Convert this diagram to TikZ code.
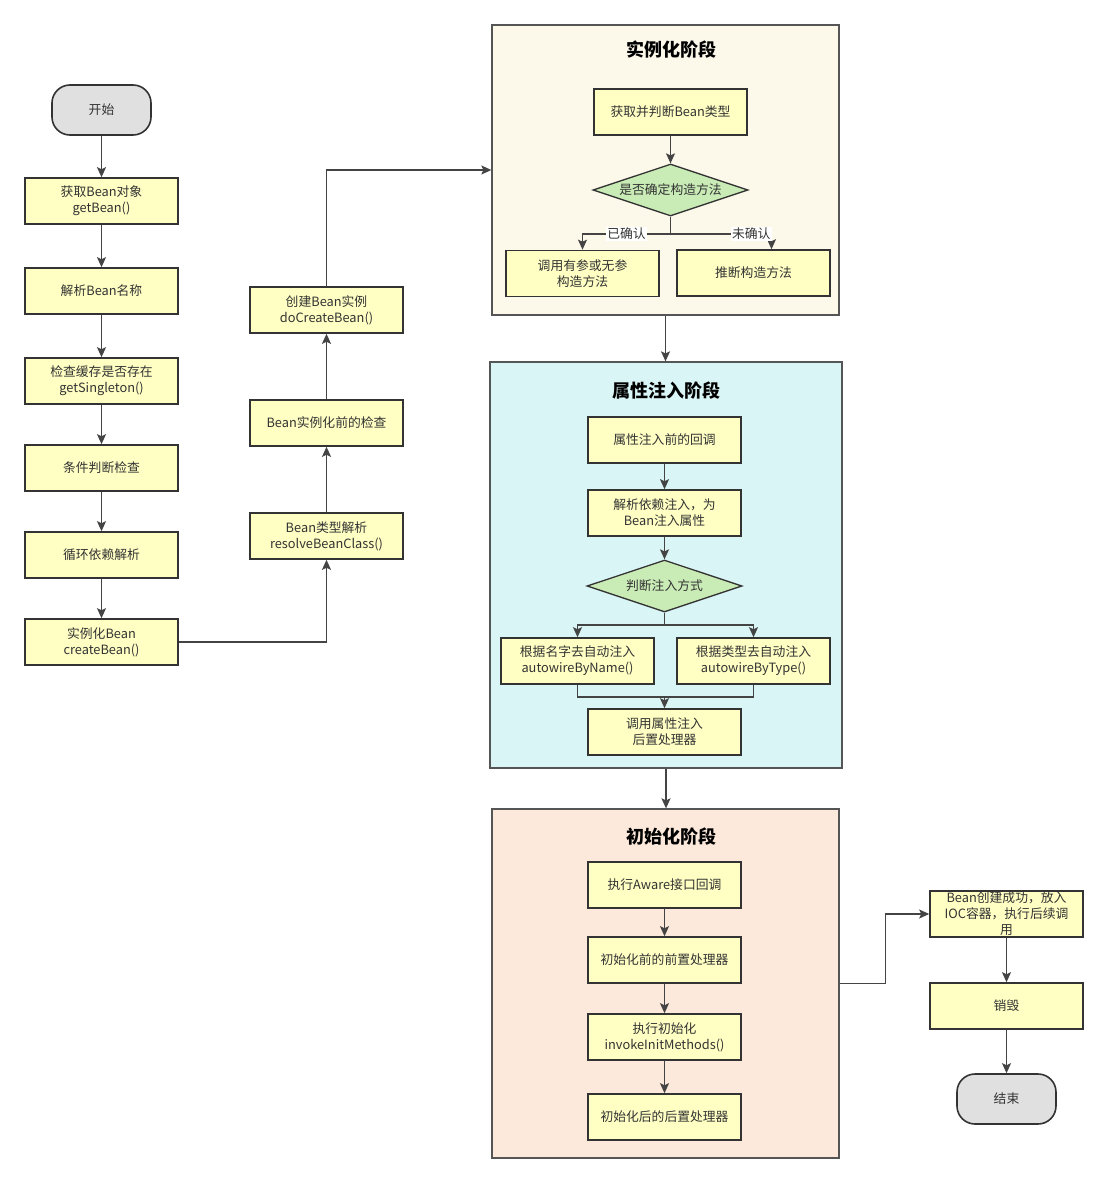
\documentclass[tikz,border=0pt]{standalone}
\usepackage{fontspec}
\setmainfont{Noto Sans CJK SC}
\usepackage{tikz}
\usetikzlibrary{arrows.meta,positioning,shapes.geometric}
\definecolor{Ink}{HTML}{333333}
\definecolor{Wire}{HTML}{444444}
\definecolor{Frame}{HTML}{555555}
\definecolor{Pale}{HTML}{FFFFC4}
\definecolor{Leaf}{HTML}{C9EBB6}
\definecolor{Stone}{HTML}{E0E0E0}
\definecolor{Cream}{HTML}{FCF9EB}
\definecolor{Aqua}{HTML}{DAF5F5}
\definecolor{Peach}{HTML}{FCE9DB}

\begin{document}
\begin{tikzpicture}[x=1pt,y=-1pt,
  stepbox/.style={draw=Ink,fill=Pale,line width=1.6pt,minimum width=153pt,minimum height=46pt,inner sep=0pt,align=center,text=Ink,font=\fontsize{12.8}{16}\selectfont},
  termbox/.style={draw=Ink,fill=Stone,line width=1.6pt,rounded corners=18pt,minimum width=99pt,minimum height=50pt,inner sep=0pt,text=Ink,font=\fontsize{12.8}{16}\selectfont},
  decide/.style={diamond,aspect=3,draw=Ink,fill=Leaf,line width=1.3pt,minimum width=155pt,minimum height=52pt,inner sep=0pt,text=Ink,font=\fontsize{12.8}{16}\selectfont},
  stage/.style={draw=Frame,line width=1.3pt,inner sep=0pt},
  title/.style={font=\fontsize{18}{20}\selectfont\bfseries,text=black},
  edgelabel/.style={fill=white,inner sep=1pt,text=Ink,font=\fontsize{12.8}{14}\selectfont},
  arrow/.style={-{Stealth[length=10pt,width=9pt,inset=2pt]},line width=1.3pt,draw=Wire},
  wire/.style={line width=1.3pt,draw=Wire}
]
\useasboundingbox (0,0) rectangle (1108,1183);

% stage containers
\node[stage,fill=Cream,minimum width=347pt,minimum height=290pt] (stageA) at (665.5,170) {};
\node[stage,fill=Aqua,minimum width=352pt,minimum height=406pt] (stageB) at (666,565) {};
\node[stage,fill=Peach,minimum width=347pt,minimum height=349pt] (stageC) at (665.5,983.5) {};
\node[title] (titleA) at (671,50) {实例化阶段};
\node[title] (titleB) at (666,391) {属性注入阶段};
\node[title] (titleC) at (671,837) {初始化阶段};

% left column
\node[termbox] (start) at (101.5,110) {开始};
\node[stepbox] (getbean) at (101.5,201) {获取Bean对象\\getBean()};
\node[stepbox] (parsename) at (101.5,291) {解析Bean名称};
\node[stepbox] (cache) at (101.5,381) {检查缓存是否存在\\getSingleton()};
\node[stepbox] (cond) at (101.5,468) {条件判断检查};
\node[stepbox] (circ) at (101.5,555) {循环依赖解析};
\node[stepbox] (createbean) at (101.5,642) {实例化Bean\\createBean()};
\draw[arrow] (start) -- (getbean);
\draw[arrow] (getbean) -- (parsename);
\draw[arrow] (parsename) -- (cache);
\draw[arrow] (cache) -- (cond);
\draw[arrow] (cond) -- (circ);
\draw[arrow] (circ) -- (createbean);

% middle column
\node[stepbox] (resolve) at (326.5,536) {Bean类型解析\\resolveBeanClass()};
\node[stepbox] (precheck) at (326.5,423) {Bean实例化前的检查};
\node[stepbox] (docreate) at (326.5,310) {创建Bean实例\\doCreateBean()};
\draw[arrow] (createbean.east) -| (resolve.south);
\draw[arrow] (resolve) -- (precheck);
\draw[arrow] (precheck) -- (docreate);
\draw[arrow] (docreate.north) |- (stageA.west);

% instantiation stage
\node[stepbox] (gettype) at (670.5,112) {获取并判断Bean类型};
\node[decide] (decideA) at (670.5,190) {是否确定构造方法};
\node[stepbox] (callctor) at (582.5,273.5) {调用有参或无参\\构造方法};
\node[stepbox] (inferctor) at (753.5,273) {推断构造方法};
\coordinate (splitA) at (670.5,234);
\draw[arrow] (gettype) -- (decideA);
\draw[arrow] (decideA.south) -- (splitA) -| node[edgelabel,pos=0.25] {已确认} (callctor.north);
\draw[arrow] (decideA.south) -- (splitA) -| node[edgelabel,pos=0.4] {未确认} ([xshift=18pt]inferctor.north);
\draw[arrow] (stageA.south) -- (stageA.south |- stageB.north);

% injection stage
\node[stepbox] (precb) at (664.5,440) {属性注入前的回调};
\node[stepbox] (resolvedep) at (664.5,513) {解析依赖注入，为\\Bean注入属性};
\node[decide] (decideB) at (664.5,586) {判断注入方式};
\node[stepbox] (byname) at (577.5,661) {根据名字去自动注入\\autowireByName()};
\node[stepbox] (bytype) at (753.5,661) {根据类型去自动注入\\autowireByType()};
\node[stepbox] (postproc) at (664.5,732) {调用属性注入\\后置处理器};
\coordinate (splitB) at (664.5,625);
\coordinate (mergeB) at (664.5,697);
\draw[arrow] (precb) -- (resolvedep);
\draw[arrow] (resolvedep) -- (decideB);
\draw[arrow] (decideB.south) -- (splitB) -| (byname.north);
\draw[arrow] (splitB) -| (bytype.north);
\draw[wire] (byname.south) |- (mergeB);
\draw[wire] (bytype.south) |- (mergeB);
\draw[arrow] (mergeB) -- (postproc.north);
\draw[arrow] (stageB.south) -- (stageB.south |- stageC.north);

% initialization stage
\node[stepbox] (aware) at (664.5,885) {执行Aware接口回调};
\node[stepbox] (beforeinit) at (664.5,960) {初始化前的前置处理器};
\node[stepbox] (invoke) at (664.5,1037) {执行初始化\\invokeInitMethods()};
\node[stepbox] (afterinit) at (664.5,1117) {初始化后的后置处理器};
\draw[arrow] (aware) -- (beforeinit);
\draw[arrow] (beforeinit) -- (invoke);
\draw[arrow] (invoke) -- (afterinit);

% right column
\node[stepbox] (success) at (1006.5,914) {};
\node[text=Ink,align=center,inner sep=0pt,font=\fontsize{12.8}{16}\selectfont] (successtext) at (success) {Bean创建成功，放入\\IOC容器，执行后续调\\用};
\node[stepbox] (destroy) at (1006.5,1006) {销毁};
\node[termbox] (finish) at (1006.5,1099) {结束};
\draw[arrow] (stageC.east) -- ++(46,0) |- (success.west);
\draw[arrow] (success) -- (destroy);
\draw[arrow] (destroy) -- (finish);
\end{tikzpicture}
\end{document}
